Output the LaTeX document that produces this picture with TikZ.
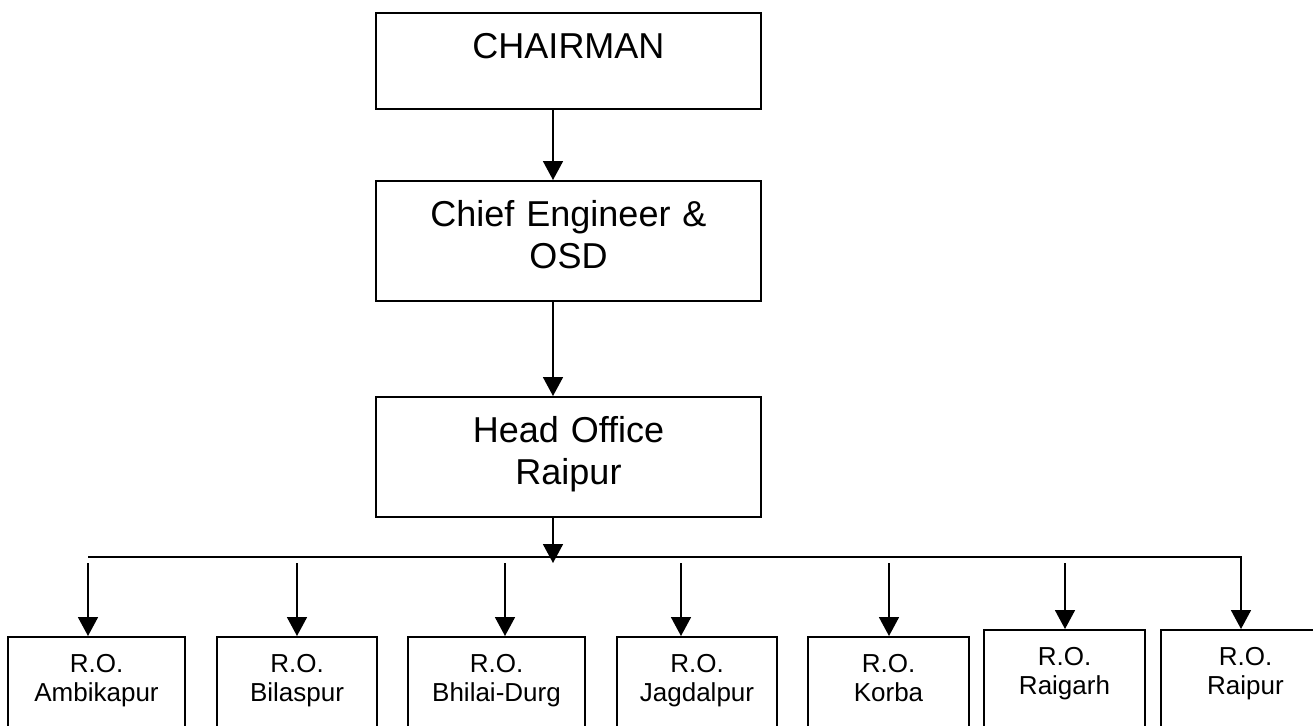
\documentclass[tikz,border=0pt]{standalone}
\usepackage{fontspec}
\setmainfont{Liberation Sans}
\usetikzlibrary{arrows.meta}
\tikzset{
    orgbox/.style={draw, line width=0.9pt, inner sep=0pt, align=center, anchor=north},
    bigbox/.style={orgbox, minimum width=192.5pt, text width=192.5pt, text height=23pt, font=\fontsize{18}{21}\selectfont},
    robox/.style={orgbox, text height=18pt, text depth=36.5pt, font=\fontsize{13}{14.5}\selectfont},
    arr/.style={-{Triangle[length=9.5pt,width=10pt]}, line width=0.9pt}
}
\begin{document}
\begin{tikzpicture}[x=0.5pt, y=-0.5pt]
        \useasboundingbox (0, 0) rectangle (1313, 725);
        \clip (0, 0) rectangle (1313, 725);
        % top of the chart
        \node[bigbox, text depth=25pt] (chair) at (568.5, 12) {CHAIRMAN};
        \node[bigbox, text depth=37pt] (chief) at (568.5, 180) {Chief Engineer \&\\OSD};
        \node[bigbox, text depth=37pt] (head) at (568.5, 396) {Head Office\\Raipur};
        \coordinate (hub_pnt) at (553, 563);
        \coordinate (bus_l_pnt) at (88, 557);
        \coordinate (bus_r_pnt) at (1241, 557);
        \draw[arr] (chair.south -| hub_pnt) -- (chief.north -| hub_pnt);
        \draw[arr] (chief.south -| hub_pnt) -- (head.north -| hub_pnt);
        \draw[arr] (head.south -| hub_pnt) -- (hub_pnt);
        % regional offices
        \node[robox, minimum width=88.5pt, text width=88.5pt] (ro_ambikapur) at (96.5, 636) {R.O.\\Ambikapur};
        \node[robox, minimum width=80pt, text width=80pt] (ro_bilaspur) at (297, 636) {R.O.\\Bilaspur};
        \node[robox, minimum width=88.5pt, text width=88.5pt] (ro_bhilai) at (496.5, 636) {R.O.\\Bhilai-Durg};
        \node[robox, minimum width=80pt, text width=80pt] (ro_jagdalpur) at (697, 636) {R.O.\\Jagdalpur};
        \node[robox, minimum width=80.5pt, text width=80.5pt] (ro_korba) at (888.5, 636) {R.O.\\Korba};
        \node[robox, minimum width=80.5pt, text width=80.5pt] (ro_raigarh) at (1064.5, 629) {R.O.\\Raigarh};
        \node[robox, minimum width=84.5pt, text width=84.5pt] (ro_raipur) at (1245.5, 629) {R.O.\\Raipur};
        \coordinate (drop_a_pnt) at (88, 563);
        \coordinate (drop_b_pnt) at (297, 563);
        \coordinate (drop_c_pnt) at (505, 563);
        \coordinate (drop_d_pnt) at (681, 563);
        \coordinate (drop_e_pnt) at (889, 563);
        \coordinate (drop_f_pnt) at (1065, 563);
        \draw[arr] (bus_l_pnt) -- (bus_r_pnt) -- (bus_r_pnt |- ro_raipur.north);
        \draw[arr] (drop_a_pnt) -- (drop_a_pnt |- ro_ambikapur.north);
        \draw[arr] (drop_b_pnt) -- (drop_b_pnt |- ro_bilaspur.north);
        \draw[arr] (drop_c_pnt) -- (drop_c_pnt |- ro_bhilai.north);
        \draw[arr] (drop_d_pnt) -- (drop_d_pnt |- ro_jagdalpur.north);
        \draw[arr] (drop_e_pnt) -- (drop_e_pnt |- ro_korba.north);
        \draw[arr] (drop_f_pnt) -- (drop_f_pnt |- ro_raigarh.north);
    \end{tikzpicture}
\end{document}
